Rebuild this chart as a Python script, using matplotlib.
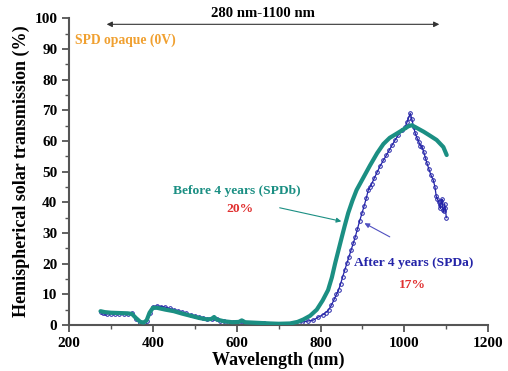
import matplotlib
matplotlib.use("Agg")
import matplotlib.pyplot as plt
from matplotlib.ticker import MultipleLocator

# --- data ---
# Before 4 years (SPDb)
wl_b = [275, 285, 300, 320, 340, 350, 360, 370, 378, 385, 392, 400, 410, 430, 450, 470, 490,
        510, 530, 540, 546, 552, 570, 590, 605, 612, 620, 650, 680, 700, 727, 745, 759, 775,
        791, 805, 818, 827, 835, 843, 851, 858, 866, 876, 886, 900, 918, 935, 950, 965, 982,
        995, 1010, 1018, 1030, 1046, 1060, 1077, 1093, 1101]
t_b = [4.5, 4.2, 4.0, 3.9, 3.8, 3.6, 2.2, 1.0, 0.8, 1.5, 4.0, 5.6, 5.6, 5.0, 4.5, 3.7, 3.0,
       2.3, 1.8, 2.0, 2.6, 1.8, 1.2, 0.9, 1.0, 1.5, 0.9, 0.7, 0.5, 0.4, 0.5, 1.0, 1.8, 3.0,
       5.0, 8.0, 11.4, 15.5, 20.2, 24.5, 28.8, 32.5, 36.5, 40.5, 44.0, 47.5, 52.0, 56.0, 59.0, 61.0, 62.4,
       63.5, 64.8, 65.1, 64.2, 63.0, 61.8, 60.3, 58.0, 55.4]

# After 4 years (SPDa)
wl_a = [275, 280, 285, 290, 300, 310, 320, 330, 340, 350, 360, 370, 378, 385, 392, 400, 410,
        420, 430, 440, 450, 460, 470, 480, 490, 500, 510, 520, 530, 540, 546, 552, 560, 570,
        580, 590, 605, 612, 620, 635, 650, 665, 680, 700, 715, 727, 740, 755, 770, 783, 795,
        805, 812, 819, 826, 833, 838, 843, 848, 853, 858, 863, 868, 873, 878, 883, 888, 893,
        899, 904, 909, 914, 918, 922, 928, 935, 942, 950, 957, 964, 971, 978, 985, 995, 1002,
        1006, 1010, 1014, 1018, 1022, 1026, 1030, 1034, 1038, 1042, 1046, 1050, 1054, 1058,
        1063, 1069, 1073, 1076, 1079, 1082, 1084, 1086, 1088, 1090, 1092, 1094, 1096, 1098, 1100]
t_a = [4.2, 4.0, 3.8, 3.7, 3.6, 3.5, 3.5, 3.5, 3.6, 3.8, 2.0, 0.8, 0.5, 1.2, 4.0, 6.0, 6.2,
       6.0, 5.8, 5.4, 5.0, 4.6, 4.2, 3.8, 3.3, 2.9, 2.5, 2.2, 1.9, 2.0, 2.4, 1.8, 1.4, 1.2,
       1.0, 0.9, 0.9, 1.3, 0.8, 0.7, 0.6, 0.5, 0.4, 0.3, 0.3, 0.3, 0.6, 0.9, 1.3, 1.6, 2.6,
       3.3, 4.0, 4.9, 6.5, 8.5, 10.0, 11.4, 13.5, 15.8, 18.0, 20.2, 22.3, 24.5, 26.6, 28.8, 31.3, 33.8,
       36.5, 38.8, 41.3, 44.0, 45.0, 46.0, 47.8, 49.8, 51.8, 53.7, 55.3, 57.0, 58.7, 60.3, 61.8, 63.5, 64.6,
       66.0, 67.5, 69.0, 67.0, 64.5, 62.5, 61.0, 59.8, 58.5, 58.0, 56.5, 54.5, 52.7, 51.0,
       49.0, 47.2, 45.0, 42.0, 41.0, 40.0, 39.0, 38.0, 40.5, 41.0, 37.5, 37.0, 39.5, 38.0, 35.0]

x_ticks = [200, 400, 600, 800, 1000, 1200]
y_ticks = [0, 10, 20, 30, 40, 50, 60, 70, 80, 90, 100]

teal = "#1b8f83"
blue = "#2424a8"

plt.rcParams['font.family'] = ['Liberation Serif', 'DejaVu Serif']
plt.rcParams['font.weight'] = 'bold'

fig = plt.figure(figsize=(5.08, 3.71), dpi=100)
ax = fig.add_axes([0.136, 0.124, 0.825, 0.827])

ax.plot(wl_a, t_a, color=blue, lw=0.9, marker='o', ms=2.6, mfc='none', mec=blue, mew=0.7, zorder=2)
ax.plot(wl_b, t_b, color=teal, lw=3.0, solid_capstyle='round', solid_joinstyle='round', zorder=3)

ax.set_xlim(200, 1200)
ax.set_ylim(0, 100)
ax.set_xticks(x_ticks)
ax.set_yticks(y_ticks)
ax.xaxis.set_minor_locator(MultipleLocator(100))
ax.yaxis.set_minor_locator(MultipleLocator(5))
for s in ['top', 'right']:
    ax.spines[s].set_visible(False)
for s in ['left', 'bottom']:
    ax.spines[s].set_color('#555555')
    ax.spines[s].set_linewidth(1.5)
ax.tick_params(which='major', direction='out', length=5, width=1.3, color='#555555', labelsize=11)
ax.tick_params(which='minor', direction='out', length=3, width=1.0, color='#555555')
for lab in ax.get_xticklabels() + ax.get_yticklabels():
    lab.set_fontweight('bold')

ax.set_xlabel('Wavelength (nm)', fontsize=13, fontweight='bold', labelpad=1)
ax.set_ylabel('Hemispherical solar transmission (%)', fontsize=13, fontweight='bold', labelpad=3)

# top range arrow
ax.annotate('', xy=(283, 98), xytext=(1090, 98),
            arrowprops=dict(arrowstyle='<|-|>', color='#333333', lw=0.8, mutation_scale=8))
ax.text(663, 99.3, '280 nm-1100 nm', ha='center', va='bottom', fontsize=10.6, fontweight='bold')

ax.text(214, 92.8, 'SPD opaque (0V)', ha='left', va='center', fontsize=9.8, fontweight='bold', color='#f0a030')

ax.text(601, 43.6, 'Before 4 years (SPDb)', ha='center', va='center', fontsize=9.7, fontweight='bold', color=teal)
ax.text(608, 37.8, '20%', ha='center', va='center', fontsize=9.7, fontweight='bold', color='#e03030')
ax.text(1023, 20.2, 'After 4 years (SPDa)', ha='center', va='center', fontsize=9.7, fontweight='bold', color=blue)
ax.text(1018, 13.0, '17%', ha='center', va='center', fontsize=9.7, fontweight='bold', color='#e03030')

ax.annotate('', xy=(856, 33.6), xytext=(696, 38.4),
            arrowprops=dict(arrowstyle='-|>', color=teal, lw=0.8, mutation_scale=7))
ax.annotate('', xy=(899, 33.6), xytext=(971, 28.3),
            arrowprops=dict(arrowstyle='-|>', color='#5050c0', lw=0.8, mutation_scale=7))

fig.savefig('out.png', dpi=100)
